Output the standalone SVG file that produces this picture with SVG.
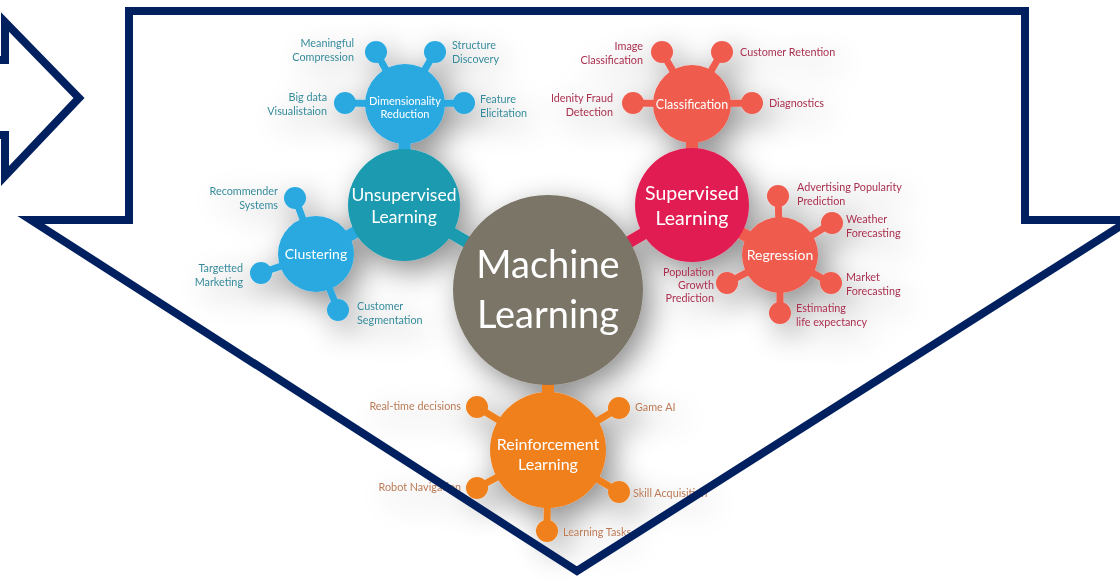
<svg xmlns="http://www.w3.org/2000/svg" width="1120" height="582" viewBox="0 0 1120 582">
<defs>
<filter id="sh" x="-30%" y="-30%" width="160%" height="160%">
<feDropShadow dx="8" dy="10" stdDeviation="15" flood-color="#000" flood-opacity="0.45"/>
</filter>
</defs>
<style>
text{font-family:Lato,"Open Sans","Liberation Sans",sans-serif}
.w{fill:#fff;text-anchor:middle}
.b{fill:#368a9a;font-size:10.8px}
.r{fill:#a8304f;font-size:10.8px}
.o{fill:#b97a55;font-size:10.8px}
.e{text-anchor:end}
.lb{fill:#29a9e1}.tl{fill:#1a9bb0}.cr{fill:#e11f53}.sa{fill:#ef5c4e}.or{fill:#f0801f}.gr{fill:#7a7466}
.slb{stroke:#29a9e1}.stl{stroke:#1a9bb0}.scr{stroke:#e11f53}.ssa{stroke:#ef5c4e}.sor{stroke:#f0801f}
.s{stroke-width:7;fill:none}.m{stroke-width:12;fill:none}
.nv{fill:none;stroke:#00205f;stroke-width:8;stroke-linejoin:miter;stroke-miterlimit:10}
</style>
<rect width="1120" height="582" fill="#fff"/>
<g id="mindmap" filter="url(#sh)">
<g id="connectors">
<line class="m stl" x1="548" y1="290" x2="404" y2="205"/>
<line class="m scr" x1="548" y1="290" x2="692" y2="205"/>
<line class="m sor" x1="548" y1="290" x2="548" y2="450"/>
<line class="m slb" x1="404" y1="205" x2="405" y2="104"/>
<line class="m slb" x1="404" y1="205" x2="316" y2="254"/>
<line class="m ssa" x1="692" y1="205" x2="692" y2="104"/>
<line class="m ssa" x1="692" y1="205" x2="780" y2="255"/>
<g class="s slb">
<line x1="405" y1="104" x2="376" y2="52"/><line x1="405" y1="104" x2="435" y2="52"/>
<line x1="405" y1="104" x2="345" y2="103"/><line x1="405" y1="104" x2="464" y2="103"/>
<line x1="316" y1="254" x2="295" y2="198"/><line x1="316" y1="254" x2="261" y2="273"/>
<line x1="316" y1="254" x2="338" y2="310"/>
</g>
<g class="s ssa">
<line x1="692" y1="104" x2="662" y2="52"/><line x1="692" y1="104" x2="722" y2="52"/>
<line x1="692" y1="104" x2="633" y2="103"/><line x1="692" y1="104" x2="752" y2="103"/>
<line x1="780" y1="255" x2="778" y2="196"/><line x1="780" y1="255" x2="832" y2="223"/>
<line x1="780" y1="255" x2="831" y2="283"/><line x1="780" y1="255" x2="780" y2="313"/>
<line x1="780" y1="255" x2="727" y2="283"/>
</g>
<g class="s sor">
<line x1="548" y1="450" x2="477" y2="407"/><line x1="548" y1="450" x2="619" y2="408"/>
<line x1="548" y1="450" x2="477" y2="488"/><line x1="548" y1="450" x2="619" y2="492"/>
<line x1="548" y1="450" x2="547" y2="531"/>
</g>
</g>
<g id="machine-learning">
<circle class="gr" cx="548" cy="290" r="95"/>
<text class="w" x="548" y="278" font-size="38">Machine</text>
<text class="w" x="548" y="328" font-size="38">Learning</text>
</g>
<g id="unsupervised-learning">
<circle class="tl" cx="404" cy="205" r="56"/>
<text class="w" x="404" y="201" font-size="17.5">Unsupervised</text>
<text class="w" x="404" y="223" font-size="17.5">Learning</text>
</g>
<g id="dimensionality-reduction">
<circle class="lb" cx="405" cy="104" r="40"/>
<text class="w" x="405" y="105" font-size="11">Dimensionality</text>
<text class="w" x="405" y="118" font-size="11">Reduction</text>
<circle class="lb" cx="376" cy="52" r="11"/>
<circle class="lb" cx="435" cy="52" r="11"/>
<circle class="lb" cx="345" cy="103" r="11"/>
<circle class="lb" cx="464" cy="103" r="11"/>
<text class="b e" x="354" y="47">Meaningful</text>
<text class="b e" x="354" y="61">Compression</text>
<text class="b" x="452" y="49">Structure</text>
<text class="b" x="452" y="63">Discovery</text>
<text class="b e" x="327" y="101">Big data</text>
<text class="b e" x="327" y="115">Visualistaion</text>
<text class="b" x="480" y="103">Feature</text>
<text class="b" x="480" y="117">Elicitation</text>
</g>
<g id="clustering">
<circle class="lb" cx="316" cy="254" r="38"/>
<text class="w" x="316" y="259" font-size="14">Clustering</text>
<circle class="lb" cx="295" cy="198" r="11"/>
<circle class="lb" cx="261" cy="273" r="11"/>
<circle class="lb" cx="338" cy="310" r="11"/>
<text class="b e" x="278" y="195">Recommender</text>
<text class="b e" x="278" y="209">Systems</text>
<text class="b e" x="243" y="272">Targetted</text>
<text class="b e" x="243" y="286">Marketing</text>
<text class="b" x="357" y="310">Customer</text>
<text class="b" x="357" y="324">Segmentation</text>
</g>
<g id="supervised-learning">
<circle class="cr" cx="692" cy="205" r="57"/>
<text class="w" x="692" y="200" font-size="19.5">Supervised</text>
<text class="w" x="692" y="225" font-size="19.5">Learning</text>
</g>
<g id="classification">
<circle class="sa" cx="692" cy="104" r="39"/>
<text class="w" x="692" y="109" font-size="12.5">Classification</text>
<circle class="sa" cx="662" cy="52" r="11"/>
<circle class="sa" cx="722" cy="52" r="11"/>
<circle class="sa" cx="633" cy="103" r="11"/>
<circle class="sa" cx="752" cy="103" r="11"/>
<text class="r e" x="643" y="50">Image</text>
<text class="r e" x="643" y="64">Classification</text>
<text class="r" x="740" y="56">Customer Retention</text>
<text class="r e" x="613" y="102">Idenity Fraud</text>
<text class="r e" x="613" y="116">Detection</text>
<text class="r" x="769" y="107">Diagnostics</text>
</g>
<g id="regression">
<circle class="sa" cx="780" cy="255" r="38"/>
<text class="w" x="780" y="260" font-size="14">Regression</text>
<circle class="sa" cx="778" cy="196" r="11"/>
<circle class="sa" cx="832" cy="223" r="11"/>
<circle class="sa" cx="831" cy="283" r="11"/>
<circle class="sa" cx="780" cy="313" r="11"/>
<circle class="sa" cx="727" cy="283" r="11"/>
<text class="r" x="797" y="191">Advertising Popularity</text>
<text class="r" x="797" y="205">Prediction</text>
<text class="r" x="846" y="223">Weather</text>
<text class="r" x="846" y="237">Forecasting</text>
<text class="r" x="846" y="281">Market</text>
<text class="r" x="846" y="295">Forecasting</text>
<text class="r" x="796" y="312">Estimating</text>
<text class="r" x="796" y="326">life expectancy</text>
<text class="r e" x="714" y="276">Population</text>
<text class="r e" x="714" y="289">Growth</text>
<text class="r e" x="714" y="302">Prediction</text>
</g>
<g id="reinforcement-learning">
<circle class="or" cx="548" cy="450" r="58"/>
<text class="w" x="548" y="450" font-size="16">Reinforcement</text>
<text class="w" x="548" y="470" font-size="16">Learning</text>
<circle class="or" cx="477" cy="407" r="11"/>
<circle class="or" cx="619" cy="408" r="11"/>
<circle class="or" cx="477" cy="488" r="11"/>
<circle class="or" cx="619" cy="492" r="11"/>
<circle class="or" cx="547" cy="531" r="11"/>
<text class="o e" x="461" y="410">Real-time decisions</text>
<text class="o" x="635" y="411">Game AI</text>
<text class="o e" x="461" y="491">Robot Navigation</text>
<text class="o" x="633" y="497">Skill Acquisition</text>
<text class="o" x="563" y="536">Learning Tasks</text>
</g>
</g>
<g id="down-arrow">
<path class="nv" d="M129 11 H1025 V220 H1130 L577 571 L31 220 H129 Z"/>
</g>
<g id="right-arrow">
<path class="nv" d="M-10 60 H5 V22 L79 98 L5 176 V135 H-10"/>
</g>
</svg>
